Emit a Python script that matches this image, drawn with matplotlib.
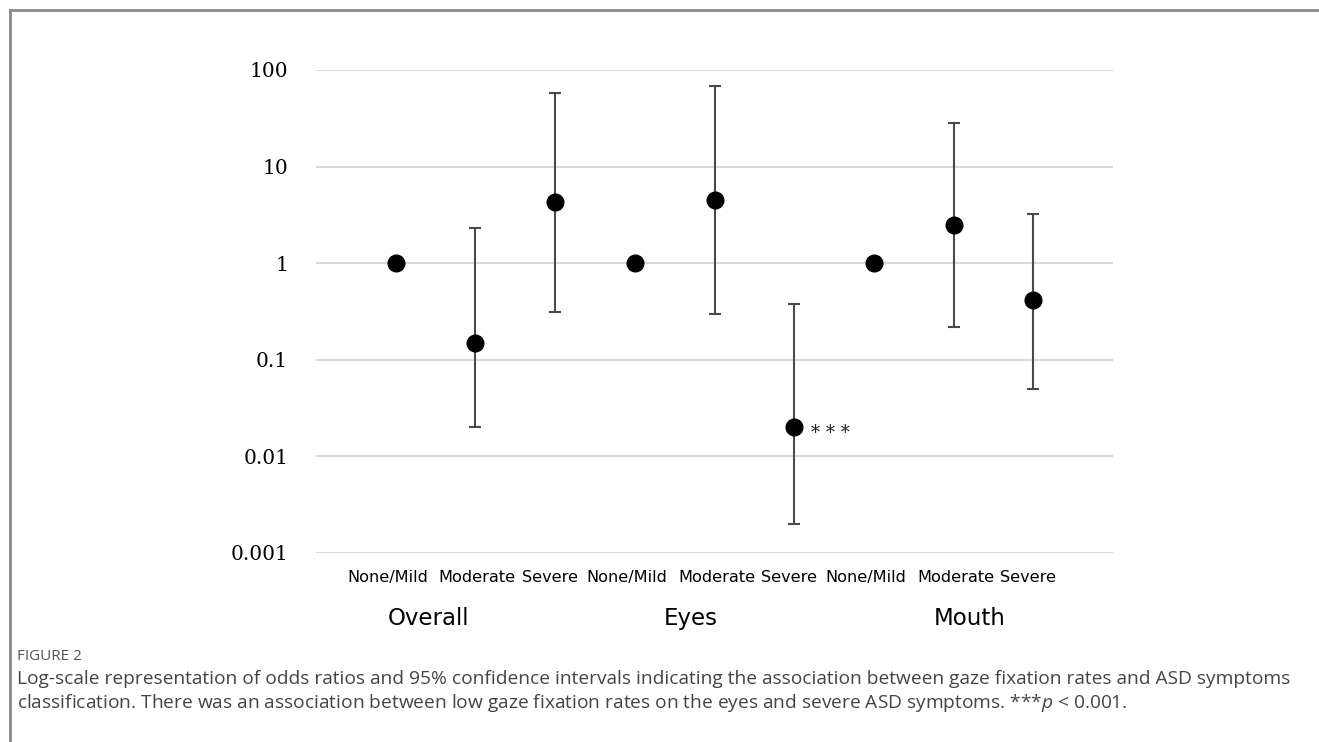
import numpy as np
import matplotlib.pyplot as plt
import matplotlib.transforms as mtransforms
from matplotlib.lines import Line2D

# odds ratios with 95% CI, reference groups have no interval
groups = ['Overall', 'Eyes', 'Mouth']
levels = ['None/Mild', 'Moderate', 'Severe']
odds = [1, 0.15, 4.3, 1, 4.5, 0.02, 1, 2.5, 0.42]
ci_low = [np.nan, 0.02, 0.31, np.nan, 0.30, 0.002, np.nan, 0.22, 0.05]
ci_high = [np.nan, 2.3, 58, np.nan, 69, 0.38, np.nan, 28, 3.2]
group_label_x = [0.41, 3.7, 7.2]
y_ticks = [0.001, 0.01, 0.1, 1, 10, 100]
y_tick_labels = ['0.001', '0.01', '0.1', '1', '10', '100']

plt.rcParams['mathtext.fontset'] = 'custom'
plt.rcParams['mathtext.it'] = 'Open Sans:italic'
plt.rcParams['mathtext.rm'] = 'Open Sans'

fig = plt.figure(figsize=(13.19, 7.42), dpi=100)
ax = fig.add_axes([316 / 1319, 1 - 553 / 742, (1113 - 316) / 1319, (553 - 70) / 742])

x = np.arange(len(odds))
odds = np.array(odds)
lo = np.array(ci_low)
hi = np.array(ci_high)
ax.errorbar(x, odds, yerr=[odds - lo, hi - odds], fmt='none', ecolor='#4a4a4a',
            elinewidth=1.5, capsize=4, capthick=1.5, zorder=2)
ax.plot(x, odds, 'o', color='black', markersize=12, zorder=3)

# significance mark next to eyes / severe
ax.annotate('* * *', (x[5], odds[5]), xytext=(12, -4), textcoords='offset points',
            fontsize=13, family='DejaVu Serif', va='center', ha='left', color='#222222')

ax.set_yscale('log')
ax.set_ylim(0.001, 100)
ax.set_xlim(-1, 9)
ax.set_yticks(y_ticks)
ax.set_yticklabels(y_tick_labels, family='DejaVu Serif', fontsize=14.5)
ax.yaxis.set_minor_locator(plt.NullLocator())
ax.tick_params(axis='y', length=0, pad=20)
ax.set_xticks(x)
ax.set_xticklabels(levels * len(groups), fontsize=11.6, family='DejaVu Sans')
ax.tick_params(axis='x', length=0, pad=12)
# labels sit a little off their points in the original
shifts = [-8, 2, -5] * len(groups)
for lab, dx in zip(ax.get_xticklabels(), shifts):
    lab.set_transform(lab.get_transform() + mtransforms.ScaledTranslation(dx / 100, 0, fig.dpi_scale_trans))
for s in ax.spines.values():
    s.set_visible(False)
ax.grid(axis='y', color='#d9d9d9', linewidth=1.5)
ax.set_axisbelow(True)

for gx, g in zip(group_label_x, groups):
    ax.text(gx, -0.135, g, transform=ax.get_xaxis_transform(), ha='center',
            va='center', fontsize=16.5, family='DejaVu Sans')

# frame of the figure page
fig.add_artist(Line2D([10 / 1319, 10 / 1319], [0, 1 - 10 / 742], color='#8a8a8a', lw=2))
fig.add_artist(Line2D([10 / 1319, 1], [1 - 10 / 742, 1 - 10 / 742], color='#8a8a8a', lw=2))

fig.text(17 / 1319, 1 - 657 / 742, 'FIGURE 2', fontsize=11, family='Open Sans',
         color='#555555', va='center')
fig.text(17 / 1319, 1 - 679 / 742,
         'Log-scale representation of odds ratios and 95% confidence intervals indicating '
         'the association between gaze fixation rates and ASD symptoms',
         fontsize=13.8, family='Open Sans', color='#444444', va='center')
fig.text(17 / 1319, 1 - 703 / 742,
         'classification. There was an association between low gaze fixation rates on the '
         'eyes and severe ASD symptoms. ***$p$ < 0.001.',
         fontsize=13.8, family='Open Sans', color='#444444', va='center')

fig.savefig('out.png', dpi=100)
